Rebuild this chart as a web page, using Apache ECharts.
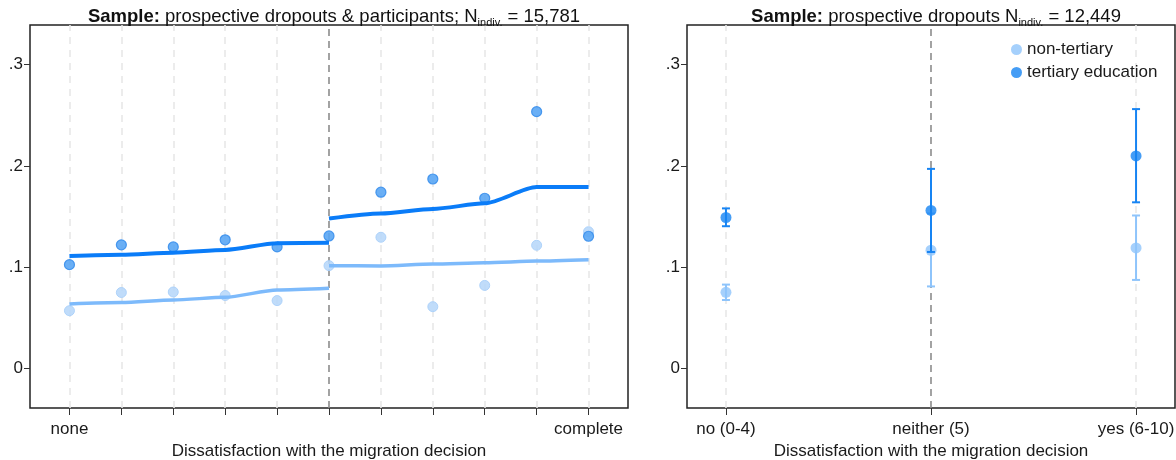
<!DOCTYPE html>
<html>
<head>
<meta charset="utf-8">
<script src="https://cdn.jsdelivr.net/npm/echarts@6/dist/echarts.min.js"></script>
<style>
  html, body { margin: 0; padding: 0; background: #fff; }
  #main { width: 1176px; height: 460px; }
</style>
</head>
<body>
<div id="main"></div>
<script>
// left panel: dissatisfaction 0..10
var scoreX = [0, 1, 2, 3, 4, 5, 6, 7, 8, 9, 10];
var nonTertPts = [0.057, 0.075, 0.0755, 0.072, 0.067, 0.1015, 0.1295, 0.061, 0.082, 0.1216, 0.135];
var tertPts = [0.1025, 0.122, 0.120, 0.127, 0.120, 0.1308, 0.174, 0.187, 0.168, 0.2535, 0.1305];

// fitted lines, split at 5
var fitXLeft = [0, 1, 2, 3, 4, 5];
var fitXRight = [5, 6, 7, 8, 9, 10];
var nonTertFitL = [0.0637, 0.065, 0.0676, 0.0703, 0.0775, 0.0792];
var nonTertFitR = [0.1015, 0.1012, 0.103, 0.1044, 0.106, 0.1074];
var tertFitL = [0.111, 0.1123, 0.1143, 0.117, 0.1236, 0.124];
var tertFitR = [0.148, 0.153, 0.1575, 0.163, 0.179, 0.179];

// right panel: 3 groups
var groups = ['no (0-4)', 'neither (5)', 'yes (6-10)'];
var nonTertMean = [0.0752, 0.1167, 0.119];
var nonTertLo = [0.0676, 0.081, 0.0874];
var nonTertHi = [0.0828, 0.153, 0.151];
var tertMean = [0.149, 0.156, 0.2098];
var tertLo = [0.1404, 0.115, 0.164];
var tertHi = [0.158, 0.197, 0.256];

var yTicks = [0, 0.1, 0.2, 0.3];
var cutoff = 5;

var FONT = '"Liberation Sans", Arial, sans-serif';
var lightPt = '#b9d8fa', darkPt = '#5aa6f4';
var lightLine = '#7dbafb', darkLine = '#0a7cf8';
var lightCi = '#8ec4fb', darkCi = '#1784f3';

function pairs(xs, ys) {
  return xs.map(function (x, i) { return [x, ys[i]]; });
}

function yFmt(v) {
  if (Math.abs(v) < 1e-9) return '0';
  return '.' + Math.round(v * 10);
}

function errBar(color) {
  return function (params, api) {
    var x = api.value(0);
    var p1 = api.coord([x, api.value(1)]);
    var p2 = api.coord([x, api.value(2)]);
    var cap = 4;
    var st = { stroke: color, lineWidth: 2 };
    return {
      type: 'group',
      children: [
        { type: 'line', shape: { x1: p1[0], y1: p1[1], x2: p2[0], y2: p2[1] }, style: st },
        { type: 'line', shape: { x1: p1[0] - cap, y1: p1[1], x2: p1[0] + cap, y2: p1[1] }, style: st },
        { type: 'line', shape: { x1: p2[0] - cap, y1: p2[1], x2: p2[0] + cap, y2: p2[1] }, style: st }
      ]
    };
  };
}

// vertical dashed guides, darker one at the cutoff
function vLines(xs, cut) {
  return xs.map(function (x) {
    return {
      xAxis: x,
      lineStyle: x === cut
        ? { color: '#8c8c8c', width: 1.6, type: [7, 5] }
        : { color: '#e8e8e8', width: 1.6, type: [7, 6] }
    };
  });
}

var groupIdx = groups.map(function (g, i) { return i; });

var yMin = -0.039, yMax = 0.339;
var FS = 17;

var yAxisBase = {
  type: 'value', min: yMin, max: yMax,
  axisLine: { show: false, onZero: false },
  splitLine: { show: false },
  axisTick: { show: true, length: 6, customValues: yTicks, lineStyle: { color: '#333', width: 1 } },
  axisLabel: { customValues: yTicks, formatter: yFmt, fontSize: FS, color: '#1a1a1a', fontFamily: FONT, margin: 7 }
};

var titleRich = {
  b: { fontWeight: 'bold', fontSize: 18.5, color: '#111', fontFamily: FONT },
  s: { fontSize: 11, color: '#111', fontFamily: FONT, verticalAlign: 'bottom', lineHeight: 16 }
};

var chart = echarts.init(document.getElementById('main'), null, { renderer: 'canvas' });

var option = {
  animation: false,
  backgroundColor: '#fff',
  textStyle: { fontFamily: FONT },
  title: [{
    text: '{b|Sample:} prospective dropouts & participants; N{s|indiv.} = 15,781',
    left: 329, top: 1, textAlign: 'center',
    textStyle: { fontSize: 18.5, color: '#111', fontWeight: 'normal', fontFamily: FONT, rich: titleRich, lineHeight: 22 }
  }, {
    text: '{b|Sample:} prospective dropouts N{s|indiv.} = 12,449',
    left: 931, top: 1, textAlign: 'center',
    textStyle: { fontSize: 18.5, color: '#111', fontWeight: 'normal', fontFamily: FONT, rich: titleRich, lineHeight: 22 }
  }],
  legend: {
    data: ['non-tertiary', 'tertiary education'],
    orient: 'vertical',
    left: 1006, top: 36,
    itemWidth: 11, itemHeight: 11, itemGap: 6,
    icon: 'circle',
    textStyle: { fontSize: FS, color: '#1a1a1a', fontFamily: FONT }
  },
  grid: [
    { left: 30, top: 25, width: 598, height: 383, outerBoundsMode: 'none', containLabel: false,
      show: true, borderColor: '#222', borderWidth: 1.5, backgroundColor: '#fff' },
    { left: 687, top: 25, width: 488, height: 383, outerBoundsMode: 'none', containLabel: false,
      show: true, borderColor: '#222', borderWidth: 1.5, backgroundColor: '#fff' }
  ],
  xAxis: [{
    gridIndex: 0, type: 'value', min: -0.76, max: 10.76,
    axisLine: { show: false, onZero: false }, splitLine: { show: false },
    axisTick: { show: true, length: 7, customValues: scoreX, lineStyle: { color: '#333', width: 1 } },
    axisLabel: {
      customValues: [0, 10], fontSize: FS, color: '#1a1a1a', fontFamily: FONT, margin: 13,
      formatter: function (v) { return v === 0 ? 'none' : 'complete'; }
    },
    name: 'Dissatisfaction with the migration decision',
    nameLocation: 'middle', nameGap: 34,
    nameTextStyle: { fontSize: FS, color: '#1a1a1a', fontFamily: FONT }
  }, {
    gridIndex: 1, type: 'value', min: -0.19, max: 2.19,
    axisLine: { show: false, onZero: false }, splitLine: { show: false },
    axisTick: { show: true, length: 7, customValues: groupIdx, lineStyle: { color: '#333', width: 1 } },
    axisLabel: {
      customValues: groupIdx, fontSize: FS, color: '#1a1a1a', fontFamily: FONT, margin: 13,
      formatter: function (v) { return groups[Math.round(v)]; }
    },
    name: 'Dissatisfaction with the migration decision',
    nameLocation: 'middle', nameGap: 34,
    nameTextStyle: { fontSize: FS, color: '#1a1a1a', fontFamily: FONT }
  }],
  yAxis: [
    Object.assign({ gridIndex: 0 }, yAxisBase),
    Object.assign({ gridIndex: 1 }, yAxisBase)
  ],
  series: [
    // left panel gridlines + cutoff
    {
      type: 'line', xAxisIndex: 0, yAxisIndex: 0, data: [], silent: true, z: 1,
      markLine: { silent: true, z: 1, symbol: 'none', label: { show: false }, data: vLines(scoreX, cutoff) }
    },
    {
      name: 'nt-pts', type: 'scatter', xAxisIndex: 0, yAxisIndex: 0, z: 3,
      symbolSize: 10, data: pairs(scoreX, nonTertPts),
      itemStyle: { color: lightPt, borderColor: '#a9cff9', borderWidth: 1, opacity: 0.9 }
    },
    {
      name: 'nt-fitL', type: 'line', xAxisIndex: 0, yAxisIndex: 0, z: 4,
      data: pairs(fitXLeft, nonTertFitL), showSymbol: false, smooth: 0.25, smoothMonotone: 'x',
      lineStyle: { color: lightLine, width: 3.5 }
    },
    {
      name: 'nt-fitR', type: 'line', xAxisIndex: 0, yAxisIndex: 0, z: 4,
      data: pairs(fitXRight, nonTertFitR), showSymbol: false, smooth: 0.25, smoothMonotone: 'x',
      lineStyle: { color: lightLine, width: 3.5 }
    },
    {
      name: 't-pts', type: 'scatter', xAxisIndex: 0, yAxisIndex: 0, z: 5,
      symbolSize: 10, data: pairs(scoreX, tertPts),
      itemStyle: { color: darkPt, borderColor: '#3a8fec', borderWidth: 1.2, opacity: 0.9 }
    },
    {
      name: 't-fitL', type: 'line', xAxisIndex: 0, yAxisIndex: 0, z: 6,
      data: pairs(fitXLeft, tertFitL), showSymbol: false, smooth: 0.25, smoothMonotone: 'x',
      lineStyle: { color: darkLine, width: 4 }
    },
    {
      name: 't-fitR', type: 'line', xAxisIndex: 0, yAxisIndex: 0, z: 6,
      data: pairs(fitXRight, tertFitR), showSymbol: false, smooth: 0.25, smoothMonotone: 'x',
      lineStyle: { color: darkLine, width: 4 }
    },
    // right panel gridlines + middle group
    {
      type: 'line', xAxisIndex: 1, yAxisIndex: 1, data: [], silent: true, z: 1,
      markLine: { silent: true, z: 1, symbol: 'none', label: { show: false }, data: vLines(groupIdx, 1) }
    },
    {
      type: 'custom', xAxisIndex: 1, yAxisIndex: 1, z: 3,
      renderItem: errBar(lightCi),
      data: groupIdx.map(function (i) { return [i, nonTertLo[i], nonTertHi[i]]; })
    },
    {
      name: 'non-tertiary', type: 'scatter', xAxisIndex: 1, yAxisIndex: 1, z: 4,
      symbolSize: 11, data: pairs(groupIdx, nonTertMean),
      itemStyle: { color: lightCi }
    },
    {
      type: 'custom', xAxisIndex: 1, yAxisIndex: 1, z: 5,
      renderItem: errBar(darkCi),
      data: groupIdx.map(function (i) { return [i, tertLo[i], tertHi[i]]; })
    },
    {
      name: 'tertiary education', type: 'scatter', xAxisIndex: 1, yAxisIndex: 1, z: 6,
      symbolSize: 11, data: pairs(groupIdx, tertMean),
      itemStyle: { color: darkCi }
    }
  ]
};

chart.setOption(option);
</script>
</body>
</html>
